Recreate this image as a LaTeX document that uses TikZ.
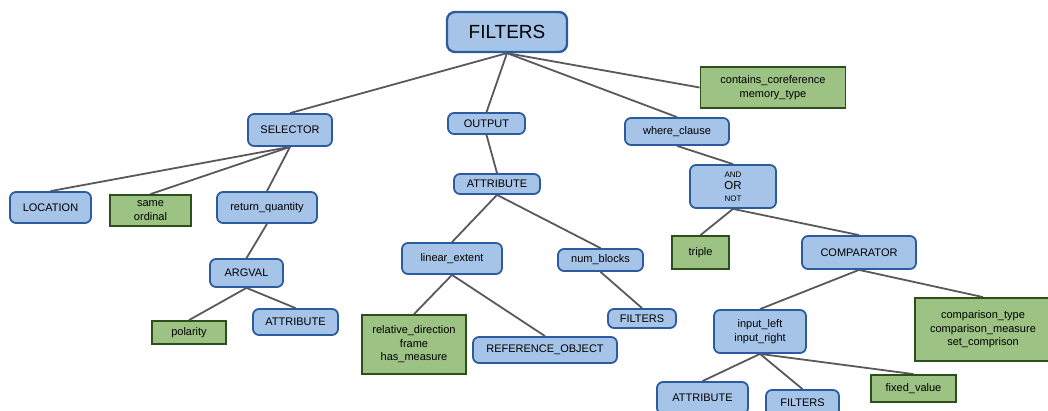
\documentclass[tikz,border=0pt]{standalone}
\usepackage{fontspec}
\setmainfont{Liberation Sans}
\usetikzlibrary{backgrounds}
\definecolor{blueFill}{HTML}{A6C4E8}
\definecolor{blueLine}{HTML}{2C5C9E}
\definecolor{greenFill}{HTML}{9CC284}
\definecolor{greenLine}{HTML}{2D4F1B}
\definecolor{edgeGray}{HTML}{595959}
\begin{document}
\begin{tikzpicture}[x=1pt,y=-1pt,
  box/.style={draw=blueLine, fill=blueFill, line width=1.8pt, rounded corners=6pt,
    inner sep=0pt, align=center, font=\fontsize{11}{13.5}\selectfont},
  leaf/.style={draw=greenLine, fill=greenFill, line width=1.8pt,
    inner sep=0pt, align=center, font=\fontsize{11}{13.5}\selectfont},
  link/.style={draw=edgeGray, line width=1.8pt},
  sz/.style 2 args={minimum width=#1pt, minimum height=#2pt}]
\useasboundingbox (0,0) rectangle (1048,411);

% root
\node[box, sz={120}{40}, line width=2.3pt, rounded corners=8pt,
      font=\fontsize{19}{22}\selectfont] (root) at (507,32) {FILTERS};
\node[leaf, sz={145}{41}] (coref) at (773,87.5) {contains\_coreference\\memory\_type};

% first level
\node[box, sz={84}{32}] (sel) at (290,130) {SELECTOR};
\node[box, sz={77}{21}] (out) at (486.5,123.5) {OUTPUT};
\node[box, sz={104}{27}] (where) at (677,131.5) {where\_clause};

% selector branch
\node[box, sz={81}{31}] (loc) at (50.5,207.5) {LOCATION};
\node[leaf, sz={81}{31}] (same) at (150.5,210.5) {same\\ordinal};
\node[box, sz={100}{31}] (retq) at (267,207.5) {return\_quantity};
\node[box, sz={73}{28}] (argval) at (246.5,273) {ARGVAL};
\node[leaf, sz={74}{23}] (polar) at (189,332.5) {polarity};
\node[box, sz={85}{26}] (attrA) at (295.5,322) {ATTRIBUTE};

% output branch
\node[box, sz={86}{20}] (attrO) at (497,184) {ATTRIBUTE};
\node[box, sz={100}{31}] (linext) at (452,258.5) {linear\_extent};
\node[box, sz={85}{22}] (nblk) at (600.5,260) {num\_blocks};
\node[leaf, sz={104}{59}] (reldir) at (414,344.5) {relative\_direction\\frame\\has\_measure};
\node[box, sz={144}{26}] (refobj) at (545,350) {REFERENCE\_OBJECT};
\node[box, sz={68}{19}] (filtN) at (642,318.5) {FILTERS};

% where branch
\node[box, sz={86}{43}, font=\fontsize{11.5}{12}\selectfont] (logic) at (733,186.5)
  {{\fontsize{8}{12}\selectfont AND}\\OR\\{\fontsize{8}{12}\selectfont NOT}};
\node[leaf, sz={57}{33}] (triple) at (700.5,252.5) {triple};
\node[box, sz={114}{33}] (comp) at (859,252.5) {COMPARATOR};
\node[box, sz={92}{43}] (inputs) at (760,331.5) {input\_left\\input\_right};
\node[leaf, sz={136}{63}] (cmpopts) at (983,329.5) {comparison\_type\\comparison\_measure\\set\_comprison};
\node[box, sz={91}{32}] (attrB) at (702.5,398) {ATTRIBUTE};
\node[box, sz={73}{26}] (filtB) at (802.5,403) {FILTERS};
\node[leaf, sz={85}{27}] (fixed) at (913.5,388.5) {fixed\_value};

\begin{scope}[on background layer]
  \draw[link] (root.south) -- (sel.north);
  \draw[link] (root.south) -- (out.north);
  \draw[link] (root.south) -- (where.north);
  \draw[link] (root.south) -- (coref.west);

  \draw[link] (sel.south) -- (loc.north);
  \draw[link] (sel.south) -- (same.north);
  \draw[link] (sel.south) -- (retq.north);
  \draw[link] (retq.south) -- (argval.north);
  \draw[link] (argval.south) -- (polar.north);
  \draw[link] (argval.south) -- (attrA.north);

  \draw[link] (out.south) -- (attrO.north);
  \draw[link] (attrO.south) -- (linext.north);
  \draw[link] (attrO.south) -- (nblk.north);
  \draw[link] (linext.south) -- (reldir.north);
  \draw[link] (linext.south) -- (refobj.north);
  \draw[link] (nblk.south) -- (filtN.north);

  \draw[link] (where.south) -- (logic.north);
  \draw[link] (logic.south) -- (triple.north);
  \draw[link] (logic.south) -- (comp.north);
  \draw[link] (comp.south) -- (inputs.north);
  \draw[link] (comp.south) -- (cmpopts.north);
  \draw[link] (inputs.south) -- (attrB.north);
  \draw[link] (inputs.south) -- (filtB.north);
  \draw[link] (inputs.south) -- (fixed.north);
\end{scope}
\end{tikzpicture}
\end{document}
